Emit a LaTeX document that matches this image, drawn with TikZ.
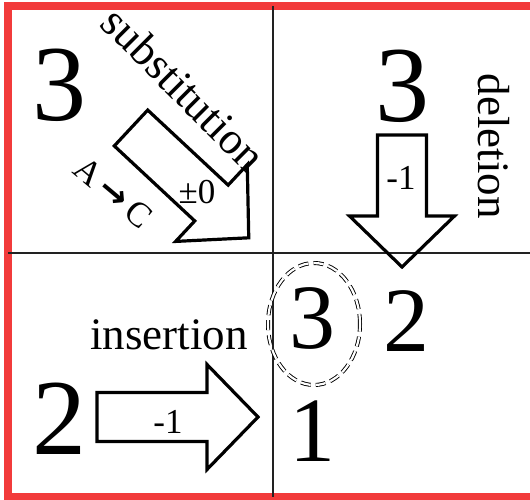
\documentclass[tikz,border=0pt]{standalone}
\usepackage{fontspec}
\setmainfont{Liberation Serif}
\newfontfamily\arrowfont{DejaVu Sans}
\usetikzlibrary{positioning}
\definecolor{FrameRed}{HTML}{F23B3B}
\definecolor{GridInk}{HTML}{222222}
\tikzset{
  bignum/.style={inner sep=0pt, font=\fontsize{108}{108}\selectfont},
  smallnum/.style={inner sep=0pt, font=\fontsize{92}{92}\selectfont},
  oplabel/.style={inner sep=0pt, font=\fontsize{45}{45}\selectfont},
  costlabel/.style={inner sep=0pt, font=\fontsize{35}{35}\selectfont},
  gridline/.style={draw=GridInk, line width=1.6pt},
  frameline/.style={draw=FrameRed, line width=8pt},
  arrowline/.style={draw=black, line width=3.2pt, line join=miter},
  gapring/.style={draw=black, line width=0.9pt, double, double distance=2.2pt,
                  dash pattern=on 10pt off 5pt},
  pics/fatarrow/.style={code={
    \path[arrowline] (0,-24.5) -- (#1-51,-24.5) -- (#1-51,-52.5) -- (#1,0)
      -- (#1-51,52.5) -- (#1-51,24.5) -- (0,24.5) -- cycle;}}
}

\begin{document}
\begin{tikzpicture}[x=1pt, y=1pt]
  \useasboundingbox (0,0) rectangle (530,499);
  \clip (0,0) rectangle (530,499);

  % frame and quadrants
  \draw[frameline] (534,493) -- (8,493) -- (8,2) -- (534,2);
  \draw[gridline] (273,493) -- (273,2);
  \draw[gridline] (8,246) -- (530,246);

  % lengths before the edit
  \node[bignum] (srcsub) at (59,414) {3};
  \node[bignum] (srcdel) at (402,413) {3};
  \node[bignum] (srcins) at (59,80) {2};

  % lengths after the edit
  \node[smallnum] (gap)     at (312,181) {3};
  \node[smallnum] (twodel)  at (406,178) {2};
  \node[smallnum] (oneins)  at (312,68)  {1};
  \draw[gapring] (314,175) ellipse [x radius=46, y radius=61];

  % edit arrows
  \pic[rotate=-43] at (131,371) {fatarrow=161};
  \pic[rotate=-90] at (402,364) {fatarrow=132};
  \pic at (97,82) {fatarrow=161};

  % operation names and costs
  \node[oplabel, rotate=-45] (sublabel) at (184,410) {substitution};
  \node[oplabel, rotate=-90] (dellabel) at (494,353) {deletion};
  \node[oplabel, anchor=base] (inslabel) at (169,150) {insertion};
  \node[costlabel, rotate=-40] (subswap) at (113,306) {A\,{\arrowfont\bfseries →}\,C};
  \node[costlabel] (subcost) at (197,307) {±0};
  \node[costlabel] (delcost) at (401,321) {-1};
  \node[costlabel] (inscost) at (168,77)  {-1};
\end{tikzpicture}
\end{document}
